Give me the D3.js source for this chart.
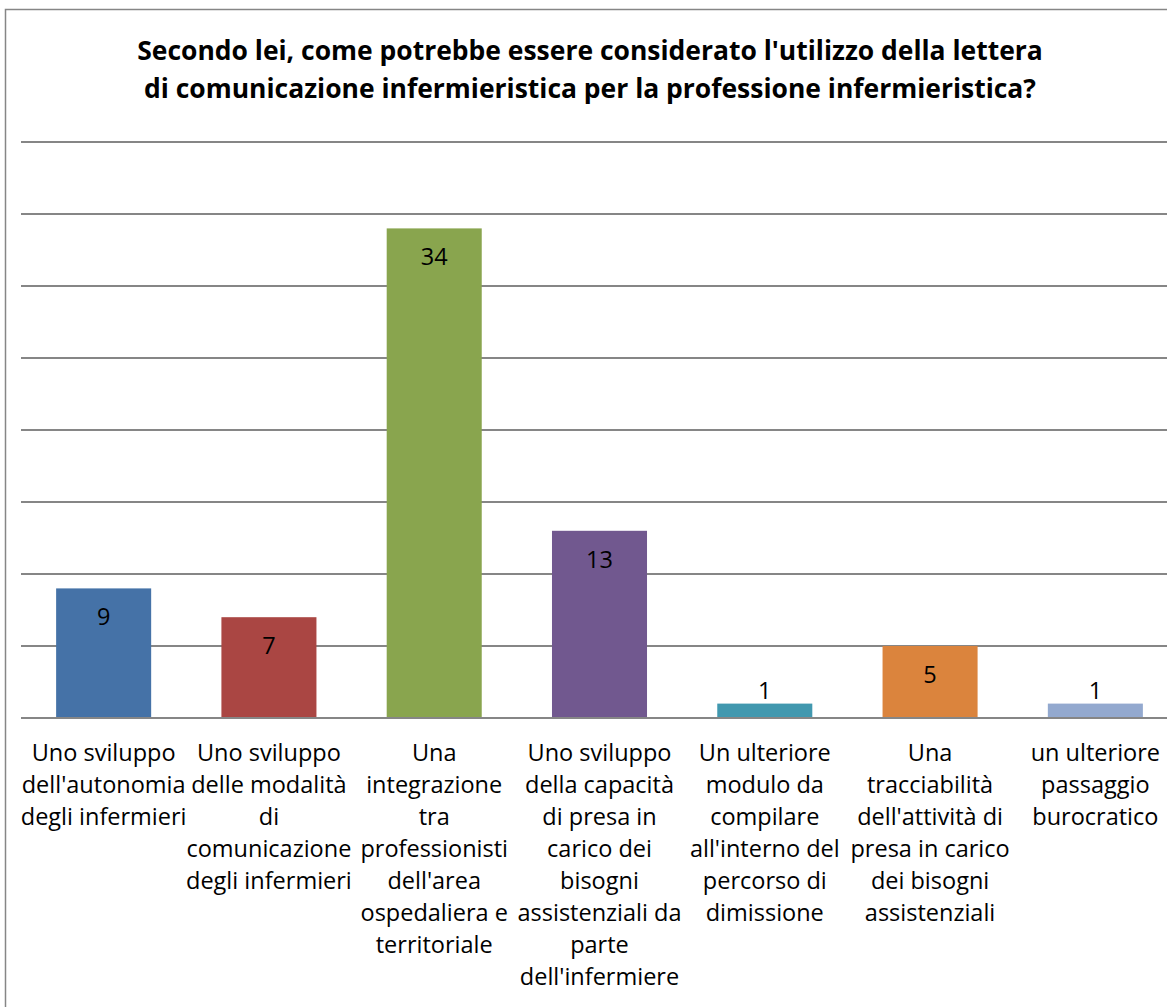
<!DOCTYPE html>
<html>
<head>
<meta charset="utf-8">
<script src="https://cdn.jsdelivr.net/npm/d3@7"></script>
<style>
  html, body { margin: 0; padding: 0; background: #fff; }
  svg { display: block; }
</style>
</head>
<body>
<svg id="chart" width="1167" height="1007"></svg>
<script>
const titleLines = [
  "Secondo lei, come potrebbe essere considerato l'utilizzo della lettera",
  "di comunicazione infermieristica per la professione infermieristica?"
];
const categories = [
  "Uno sviluppo\ndell'autonomia\ndegli infermieri",
  "Uno sviluppo\ndelle modalità\ndi\ncomunicazione\ndegli infermieri",
  "Una\nintegrazione\ntra\nprofessionisti\ndell'area\nospedaliera e\nterritoriale",
  "Uno sviluppo\ndella capacità\ndi presa in\ncarico dei\nbisogni\nassistenziali da\nparte\ndell'infermiere",
  "Un ulteriore\nmodulo da\ncompilare\nall'interno del\npercorso di\ndimissione",
  "Una\ntracciabilità\ndell'attività di\npresa in carico\ndei bisogni\nassistenziali",
  "un ulteriore\npassaggio\nburocratico"
];
const values = [9, 7, 34, 13, 1, 5, 1];
const colors = ["#4572A7", "#AA4643", "#89A54E", "#71588F", "#4198AF", "#DB843D", "#93A9CF"];
const yTicks = [0, 5, 10, 15, 20, 25, 30, 35, 40];

const svg = d3.select("#chart");
const font = "'Open Sans', Lato, sans-serif";

function fitSize(sample, target, weight) {
  const t = svg.append("text").attr("font-family", font)
    .attr("font-weight", weight).attr("font-size", 20).text(sample);
  const w = t.node().getComputedTextLength();
  t.remove();
  return 20 * target / w;
}
const titleSize = fitSize(titleLines[0], 906, "bold");
const labelSize = fitSize("dell'autonomia", 164, "normal");

svg.append("rect")
  .attr("x", 5.5).attr("y", 9.5)
  .attr("width", 1300).attr("height", 1200)
  .attr("fill", "#fff").attr("stroke", "#868686").attr("stroke-width", 1.5);

svg.append("text")
  .attr("text-anchor", "middle")
  .attr("font-family", font)
  .attr("font-weight", "bold")
  .attr("font-size", titleSize)
  .attr("fill", "#000")
  .selectAll("tspan")
  .data(titleLines)
  .join("tspan")
  .attr("x", 590)
  .attr("y", (d, i) => 60 + i * 38)
  .text(d => d);

const x = d3.scaleBand()
  .domain(categories)
  .range([21, 1178])
  .paddingInner(0.425)
  .paddingOuter(0.2125);

const y = d3.scaleLinear().domain([0, 40]).range([718, 142]);

svg.append("g")
  .selectAll("line")
  .data(yTicks)
  .join("line")
  .attr("x1", 21).attr("x2", 1178)
  .attr("y1", d => y(d)).attr("y2", d => y(d))
  .attr("stroke", "#868686").attr("stroke-width", 2);

svg.append("g")
  .selectAll("rect")
  .data(values)
  .join("rect")
  .attr("x", (d, i) => x(categories[i]))
  .attr("width", x.bandwidth())
  .attr("y", d => y(d))
  .attr("height", d => y(0) - y(d))
  .attr("fill", (d, i) => colors[i]);

svg.append("line")
  .attr("x1", 21).attr("x2", 1178)
  .attr("y1", y(0)).attr("y2", y(0))
  .attr("stroke", "#868686").attr("stroke-width", 2);

svg.append("g")
  .selectAll("text")
  .data(values)
  .join("text")
  .attr("x", (d, i) => x(categories[i]) + x.bandwidth() / 2)
  .attr("y", d => (y(0) - y(d) > 40) ? y(d) + 37 : y(d) - 5)
  .attr("text-anchor", "middle")
  .attr("font-family", font)
  .attr("font-size", labelSize)
  .attr("fill", "#000")
  .text(d => d);

const labels = svg.append("g");
categories.forEach((c, i) => {
  const t = labels.append("text")
    .attr("text-anchor", "middle")
    .attr("font-family", font)
    .attr("font-size", labelSize)
    .attr("fill", "#000");
  c.split("\n").forEach((line, j) => {
    t.append("tspan")
      .attr("x", x(c) + x.bandwidth() / 2)
      .attr("y", 761 + j * 32)
      .text(line);
  });
});
</script>
</body>
</html>
